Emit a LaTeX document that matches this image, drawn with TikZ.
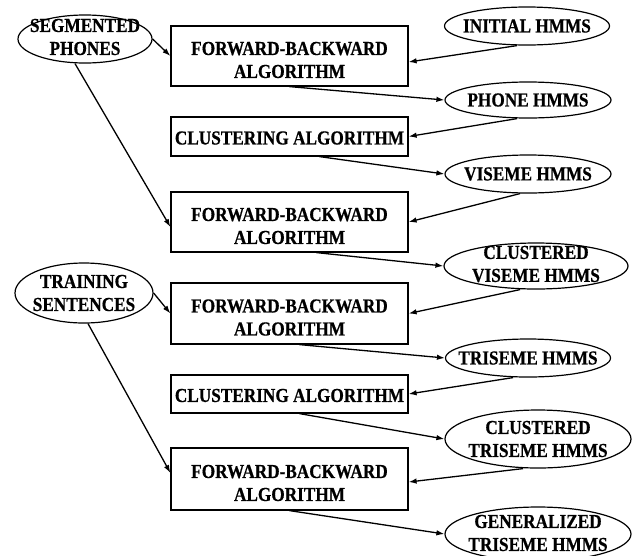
\documentclass[tikz,border=0pt]{standalone}
\usepackage{fontspec}
\newfontfamily\labfont{Liberation Serif}[FakeStretch=0.87,FakeBold=0.6]
\usetikzlibrary{shapes.geometric,arrows.meta}
\begin{document}
\begin{tikzpicture}[x=1pt,y=-1pt,
  lab/.style={font=\labfont\bfseries\fontsize{19.8}{23}\selectfont, align=center, inner sep=0pt},
  stepbox/.style={draw, line width=1.2pt, rectangle, minimum width=237pt, inner sep=0pt},
  oval/.style={draw, line width=1.2pt, ellipse, inner sep=0pt},
  flow/.style={line width=1.3pt, -{Latex[length=8pt,width=5.5pt]}}]
\useasboundingbox (0,0) rectangle (636,555);

% processing steps
\node[stepbox, minimum height=60pt] (b1) at (289.5,56)  {};
\node[lab] (b1-t) at ([yshift=-4pt]b1.center) {FORWARD-BACKWARD\\ALGORITHM};
\node[stepbox, minimum height=39pt] (b2) at (289.5,136.5) {};
\node[lab] (b2-t) at ([yshift=-1.5pt]b2.center) {CLUSTERING ALGORITHM};
\node[stepbox, minimum height=60pt] (b3) at (289.5,222) {};
\node[lab] (b3-t) at ([yshift=-4pt]b3.center) {FORWARD-BACKWARD\\ALGORITHM};
\node[stepbox, minimum height=61pt] (b4) at (289.5,313.5) {};
\node[lab] (b4-t) at ([yshift=-4pt]b4.center) {FORWARD-BACKWARD\\ALGORITHM};
\node[stepbox, minimum height=38pt] (b5) at (289.5,394) {};
\node[lab] (b5-t) at ([yshift=-1.5pt]b5.center) {CLUSTERING ALGORITHM};
\node[stepbox, minimum height=62pt] (b6) at (289.5,479) {};
\node[lab] (b6-t) at ([yshift=-4pt]b6.center) {FORWARD-BACKWARD\\ALGORITHM};

% training data
\node[oval, minimum width=134pt, minimum height=48pt] (sp) at (85,39) {};
\node[lab] (sp-t) at ([yshift=2pt]sp.center) {SEGMENTED\\PHONES};
\node[oval, minimum width=138pt, minimum height=60pt] (ts) at (84,293) {};
\node[lab] (ts-t) at (ts) {TRAINING\\SENTENCES};

% model sets
\node[oval, minimum width=165pt, minimum height=38pt] (ini) at (527,26) {};
\node[lab] (ini-t) at (ini) {INITIAL HMMS};
\node[oval, minimum width=166pt, minimum height=36pt] (ph) at (528,100) {};
\node[lab] (ph-t) at (ph) {PHONE HMMS};
\node[oval, minimum width=166pt, minimum height=38pt] (vi) at (528,174) {};
\node[lab] (vi-t) at (vi) {VISEME HMMS};
\node[oval, minimum width=184pt, minimum height=46pt] (cv) at (536,266) {};
\node[lab] (cv-t) at ([yshift=2pt]cv.center) {CLUSTERED\\VISEME HMMS};
\node[oval, minimum width=165pt, minimum height=38pt] (tr) at (528,358) {};
\node[lab] (tr-t) at (tr) {TRISEME HMMS};
\node[oval, minimum width=186pt, minimum height=58pt] (ct) at (538,439) {};
\node[lab] (ct-t) at (ct) {CLUSTERED\\TRISEME HMMS};
\node[oval, minimum width=186pt, minimum height=54pt] (ge) at (538,534) {};
\node[lab] (ge-t) at ([yshift=1pt]ge.center) {GENERALIZED\\TRISEME HMMS};

% data inputs
\draw[flow] (sp.east) -- (b1.west);
\draw[flow] ([xshift=-10pt]sp.south) -- ([yshift=-5pt]b3.west);
\draw[flow] (ts.east) -- (b4.west);
\draw[flow] ([xshift=4pt]ts.south) -- ([yshift=6pt]b6.west);

% model flow
\draw[flow] ([xshift=-10pt]ini.south) -- ([yshift=-6pt]b1.east);
\draw[flow] (b1.south) -- (ph.west);
\draw[flow] ([xshift=-11pt]ph.south) -- (b2.east);
\draw[flow] ([xshift=30pt]b2.south) -- (vi.west);
\draw[flow] ([xshift=-8pt]vi.south) -- (b3.east);
\draw[flow] ([xshift=27pt]b3.south) -- (cv.west);
\draw[flow] ([xshift=-16pt]cv.south) -- (b4.east);
\draw[flow] ([xshift=10pt]b4.south) -- (tr.west);
\draw[flow] ([xshift=-15pt]tr.south) -- (b5.east);
\draw[flow] ([xshift=10pt]b5.south) -- (ct.west);
\draw[flow] ([xshift=-15pt]ct.south) -- ([yshift=-3pt]b6.east);
\draw[flow] (b6.south) -- (ge.west);
\end{tikzpicture}
\end{document}
